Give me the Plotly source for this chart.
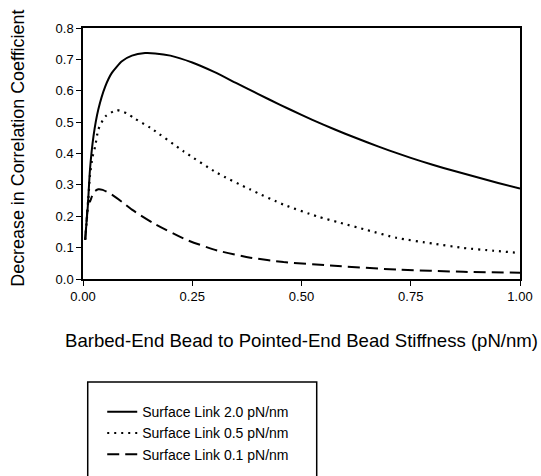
import plotly.graph_objects as go

FONT = "Liberation Sans, Arial, Helvetica, sans-serif"

series_names = ["Surface Link 2.0 pN/nm", "Surface Link 0.5 pN/nm", "Surface Link 0.1 pN/nm"]

x_20 = [0.005, 0.008, 0.011, 0.016, 0.024, 0.035, 0.051, 0.066, 0.089, 0.112, 0.142, 0.165,
        0.20, 0.25, 0.30, 0.35, 0.40, 0.45, 0.50, 0.55, 0.60, 0.65, 0.70, 0.75,
        0.80, 0.85, 0.90, 0.95, 1.0]
y_20 = [0.125, 0.18, 0.232, 0.349, 0.455, 0.54, 0.614, 0.657, 0.694, 0.712, 0.72, 0.719,
        0.712, 0.69, 0.66, 0.625, 0.59, 0.556, 0.523, 0.492, 0.463, 0.436, 0.41, 0.386,
        0.364, 0.344, 0.325, 0.306, 0.288]

x_05 = [0.005, 0.011, 0.016, 0.022, 0.028, 0.035, 0.051, 0.077, 0.10, 0.12, 0.154, 0.23,
        0.307, 0.383, 0.459, 0.535, 0.589, 0.65, 0.718, 0.80, 0.87, 0.94, 1.0]
y_05 = [0.125, 0.23, 0.33, 0.39, 0.423, 0.476, 0.518, 0.538, 0.528, 0.51, 0.482, 0.407,
        0.338, 0.285, 0.237, 0.2, 0.179, 0.156, 0.131, 0.113, 0.099, 0.09, 0.083]

x_01 = [0.005, 0.009, 0.012, 0.0156, 0.02, 0.026, 0.035, 0.045, 0.066, 0.09, 0.112, 0.16,
        0.235, 0.307, 0.383, 0.459, 0.566, 0.718, 0.87, 1.0]
y_01 = [0.125, 0.2, 0.25, 0.246, 0.262, 0.279, 0.286, 0.284, 0.269, 0.245, 0.221, 0.179,
        0.126, 0.091, 0.068, 0.054, 0.043, 0.030, 0.023, 0.02]

x_ticks = [0.0, 0.25, 0.5, 0.75, 1.0]
y_ticks = [0.0, 0.1, 0.2, 0.3, 0.4, 0.5, 0.6, 0.7, 0.8]

x_title = "Barbed-End Bead to Pointed-End Bead Stiffness (pN/nm)"
y_title = "Decrease in Correlation Coefficient"

fig = go.Figure()
styles = [dict(width=2, dash="solid"),
          dict(width=2.2, dash="2px,5px"),
          dict(width=2, dash="12px,6px")]
for name, xs, ys, st in zip(series_names, [x_20, x_05, x_01], [y_20, y_05, y_01], styles):
    fig.add_trace(go.Scatter(x=xs, y=ys, mode="lines", name=name,
                             line=dict(color="black", width=st["width"], dash=st["dash"],
                                       shape="spline", smoothing=0.6)))

axis_common = dict(showline=True, linecolor="black", linewidth=1.5, mirror=True,
                   ticks="outside", ticklen=5, tickwidth=1.2, tickcolor="black",
                   showgrid=False, zeroline=False,
                   tickfont=dict(family=FONT, size=13, color="black"))

fig.update_layout(
    width=541, height=476,
    margin=dict(l=83, r=21, t=28, b=197, autoexpand=False),
    paper_bgcolor="white", plot_bgcolor="white",
    font=dict(family=FONT, color="black"),
    xaxis=dict(range=[0, 1], tickvals=x_ticks, tickformat=".2f", **axis_common),
    yaxis=dict(range=[0, 0.8], tickvals=y_ticks, tickformat=".1f", **axis_common),
    showlegend=True,
    legend=dict(x=0.044, y=-0.467, xanchor="left", yanchor="top",
                bgcolor="rgba(0,0,0,0)", borderwidth=0, tracegroupgap=0,
                font=dict(family=FONT, size=14, color="black")),
    annotations=[
        dict(text=x_title, xref="paper", yref="paper", x=0.499, y=-0.2445,
             xanchor="center", yanchor="middle", showarrow=False,
             font=dict(family=FONT, size=18.6, color="black")),
        dict(text=y_title, xref="paper", yref="paper", x=-0.1476, y=0.521,
             xanchor="center", yanchor="middle", showarrow=False, textangle=-90,
             font=dict(family=FONT, size=17.9, color="black")),
    ],
    shapes=[
        dict(type="rect", xref="paper", yref="paper", x0=0.0108, x1=0.5348,
             y0=-0.4103, y1=-0.90, line=dict(color="black", width=1.5),
             fillcolor="rgba(0,0,0,0)"),
    ],
)

fig.write_html("out.html")
